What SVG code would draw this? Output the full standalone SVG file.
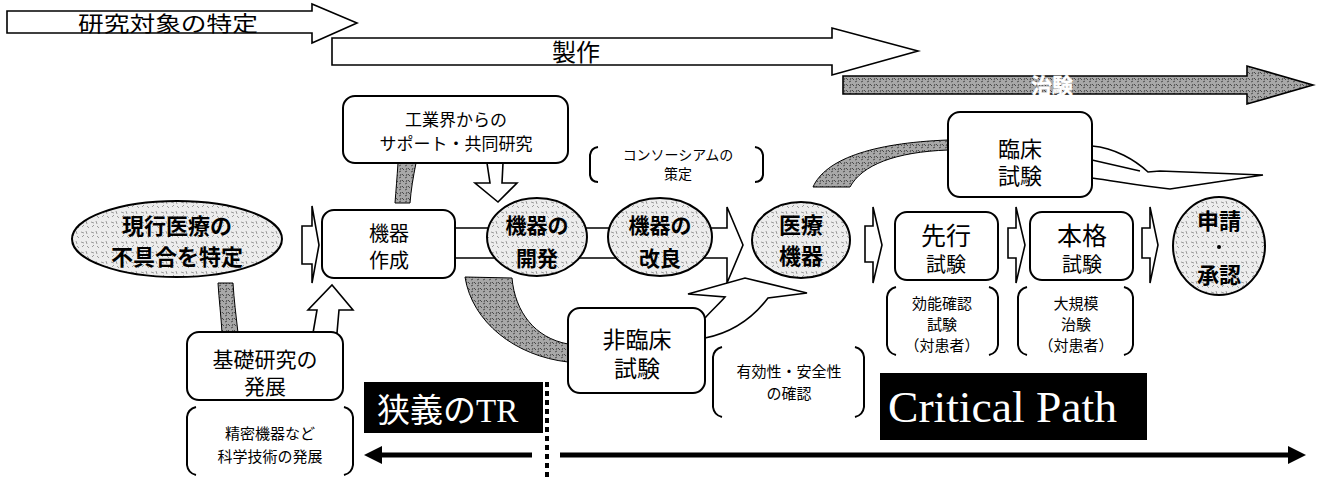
<svg xmlns="http://www.w3.org/2000/svg" width="1317" height="479" viewBox="0 0 1317 479">
<defs>
<pattern id="lt" width="10" height="10" patternUnits="userSpaceOnUse"><rect width="10" height="10" fill="#ededed"/><path d="M1,2 l3,1 M6,1 l1,3 M2,7 l2,-2 M7,6 l2,2" stroke="#777" stroke-width="0.7" fill="none"/></pattern>
<pattern id="dk" width="6" height="6" patternUnits="userSpaceOnUse"><rect width="6" height="6" fill="#a8a8a8"/><path d="M0,0 l2,2 M3,4 l2,-1 M5,0 l-1,2" stroke="#333" stroke-width="0.8" fill="none"/></pattern>
<style>
.jp{font-family:"Noto Sans CJK JP",sans-serif;fill:#000;text-anchor:middle}
.box{fill:#fff;stroke:#000;stroke-width:2}
.ell{fill:url(#lt);stroke:#000;stroke-width:2}
.hol{fill:#fff;stroke:#000;stroke-width:1.6;stroke-linejoin:miter}
.band{fill:url(#dk);stroke:#000;stroke-width:1}
.brk{fill:none;stroke:#000;stroke-width:2}
.blk{fill:#000}
.wt{font-family:"Liberation Serif","Noto Sans CJK JP",serif;fill:#fff}
</style>
</defs>

<g id="connectors">
<polygon class="hol" points="7,11 312,11 312,4 357,23 312,43 312,33 7,33"/>
<polygon class="hol" points="332,38 832,38 832,28 918,51 832,75 832,65 332,65"/>
<polygon fill="url(#dk)" stroke="#000" stroke-width="1.6" points="843,76 1247,76 1247,66 1313,85 1247,104 1247,94 843,94"/>
<polygon class="hol" points="455,228 727,228 727,207 743,245 727,283 727,258 455,258"/>
<polygon class="hol" points="302,226 312,226 312,206 319,245 312,283 312,264 302,264"/>
<polygon class="hol" points="865,226 873,226 873,207 882,245 873,283 873,262 865,262"/>
<polygon class="hol" points="1008,228 1016,228 1016,207 1025,245 1016,283 1016,258 1008,258"/>
<polygon class="hol" points="1142,228 1150,228 1150,207 1158,245 1150,283 1150,258 1142,258"/>
<polygon class="hol" points="487,163 503,163 502,183 517,183 498,202 475,183 490,183"/>
<polygon class="hol" points="317,310 313,333 337,333 339,310 353,310 332,285 308,310"/>
<path class="band" d="M218,283 C219,300 221,315 222,333 L238,333 C236,315 234,300 233,283 Z"/>
<path class="band" d="M398,163 C397,178 396,190 395,203 L410,203 C411,190 413,178 416,163 Z"/>
<path class="band" d="M465,277 C472,322 515,356 568,362 L568,344 C535,338 515,312 512,278 Z"/>
<path class="hol" d="M705,318 C712,310 720,303 725,297 L688,294 L745,278 L807,293 L768,298 C755,315 735,332 705,338"/>
<path class="band" d="M813,187 C825,160 870,143 948,140 L948,150 C895,152 862,165 850,187 Z"/>
<path class="hol" d="M1092,146 C1115,148 1135,160 1148,172 L1160,171 L1263,175 L1170,189 C1140,186 1115,181 1092,178"/>
<line x1="1092" y1="160" x2="1140" y2="171" stroke="#000" stroke-width="1.4"/>
<line x1="547" y1="382" x2="547" y2="479" stroke="#000" stroke-width="4" stroke-dasharray="5,4"/>
<line x1="378" y1="455" x2="532" y2="455" stroke="#000" stroke-width="5"/>
<polygon points="364,455 382,446 382,464" fill="#000"/>
<line x1="560" y1="455" x2="1292" y2="455" stroke="#000" stroke-width="5"/>
<polygon points="1306,455 1288,446 1288,464" fill="#000"/>
</g>

<g id="label-kenkyu"><text class="jp" x="168" y="31" font-size="21" textLength="180" lengthAdjust="spacingAndGlyphs">研究対象の特定</text></g>
<g id="label-seisaku"><text class="jp" x="576" y="61" font-size="24">製作</text></g>
<g id="label-chiken"><text class="jp" x="1052" y="93" font-size="21" font-weight="bold" style="fill:#fff;stroke:#fff;stroke-width:0.3">治験</text></g>

<g id="n-kogyo"><rect class="box" x="343" y="96" width="225" height="67" rx="12"/>
<text class="jp" x="456" y="126" font-size="17">工業界からの</text>
<text class="jp" x="456" y="150" font-size="17">サポート・共同研究</text></g>

<g id="n-consortium"><path class="brk" d="M598,147 Q591,148 590,155 L590,175 Q591,182 598,182 M755,147 Q762,148 763,155 L763,175 Q762,182 755,182"/>
<text class="jp" x="678" y="160" font-size="14">コンソーシアムの</text>
<text class="jp" x="678" y="179" font-size="14">策定</text></g>

<g id="n-rinsho"><rect class="box" x="948" y="112" width="144" height="85" rx="12"/>
<text class="jp" x="1020" y="157" font-size="22">臨床</text>
<text class="jp" x="1020" y="184" font-size="22">試験</text></g>

<g id="n-genko"><ellipse class="ell" cx="177" cy="239" rx="105" ry="38"/>
<text class="jp" x="177" y="234" font-size="22" font-weight="bold">現行医療の</text>
<text class="jp" x="177" y="265" font-size="22" font-weight="bold">不具合を特定</text></g>

<g id="n-kiki-sakusei"><rect class="box" x="322" y="210" width="133" height="68" rx="12"/>
<text class="jp" x="389" y="241" font-size="20">機器</text>
<text class="jp" x="389" y="268" font-size="20">作成</text></g>

<g id="n-kaihatsu"><ellipse class="ell" cx="537" cy="237" rx="50" ry="39"/>
<text class="jp" x="537" y="233" font-size="21" font-weight="bold">機器の</text>
<text class="jp" x="537" y="266" font-size="21" font-weight="bold">開発</text></g>

<g id="n-kairyo"><ellipse class="ell" cx="660" cy="237" rx="52" ry="39"/>
<text class="jp" x="660" y="233" font-size="21" font-weight="bold">機器の</text>
<text class="jp" x="660" y="266" font-size="21" font-weight="bold">改良</text></g>

<g id="n-iryokiki"><ellipse class="ell" cx="801" cy="240" rx="49" ry="38"/>
<text class="jp" x="801" y="233" font-size="22" font-weight="bold">医療</text>
<text class="jp" x="801" y="264" font-size="22" font-weight="bold">機器</text></g>

<g id="n-senko"><rect class="box" x="895" y="212" width="103" height="68" rx="12"/>
<text class="jp" x="946" y="245" font-size="25">先行</text>
<text class="jp" x="946" y="272" font-size="20">試験</text></g>

<g id="n-honkaku"><rect class="box" x="1030" y="212" width="103" height="68" rx="12"/>
<text class="jp" x="1082" y="245" font-size="25">本格</text>
<text class="jp" x="1082" y="272" font-size="20">試験</text></g>

<g id="n-shinsei"><ellipse class="ell" cx="1219" cy="246" rx="46" ry="49"/>
<text class="jp" x="1219" y="229" font-size="22" font-weight="bold">申請</text>
<circle cx="1219" cy="247" r="2" fill="#000"/>
<text class="jp" x="1219" y="283" font-size="22" font-weight="bold">承認</text></g>

<g id="n-koyo"><path class="brk" d="M896,287 Q888,289 887,297 L887,345 Q888,353 896,355 M989,287 Q997,289 998,297 L998,345 Q997,353 989,355"/>
<text class="jp" x="942" y="309" font-size="15">効能確認</text>
<text class="jp" x="942" y="330" font-size="15">試験</text>
<text class="jp" x="942" y="351" font-size="15">（対患者）</text></g>

<g id="n-daikibo"><path class="brk" d="M1027,287 Q1019,289 1018,297 L1018,345 Q1019,353 1027,355 M1124,287 Q1132,289 1133,297 L1133,345 Q1132,353 1124,355"/>
<text class="jp" x="1076" y="309" font-size="15">大規模</text>
<text class="jp" x="1076" y="330" font-size="15">治験</text>
<text class="jp" x="1076" y="351" font-size="15">（対患者）</text></g>

<g id="n-hirinsho"><rect class="box" x="568" y="308" width="137" height="85" rx="12"/>
<text class="jp" x="637" y="348" font-size="23">非臨床</text>
<text class="jp" x="637" y="377" font-size="23">試験</text></g>

<g id="n-yukosei"><path class="brk" d="M722,347 Q714,349 713,357 L713,407 Q714,415 722,417 M855,347 Q863,349 864,357 L864,407 Q863,415 855,417"/>
<text class="jp" x="789" y="377" font-size="15">有効性・安全性</text>
<text class="jp" x="789" y="399" font-size="15">の確認</text></g>

<g id="n-kiso"><rect class="box" x="187" y="332" width="156" height="68" rx="12"/>
<text class="jp" x="265" y="367" font-size="21">基礎研究の</text>
<text class="jp" x="265" y="394" font-size="21">発展</text></g>

<g id="n-seimitsu"><path class="brk" d="M196,407 Q188,409 187,417 L187,465 Q188,473 196,475 M344,407 Q352,409 353,417 L353,465 Q352,473 344,475"/>
<text class="jp" x="270" y="439" font-size="15">精密機器など</text>
<text class="jp" x="270" y="462" font-size="15">科学技術の発展</text></g>

<g id="n-tr"><rect class="blk" x="364" y="382" width="179" height="51"/>
<text class="wt" x="377" y="422" font-size="33">狭義のTR</text></g>

<g id="n-critical"><rect class="blk" x="880" y="373" width="267" height="67"/>
<text class="wt" x="888" y="422" font-size="45" textLength="229" lengthAdjust="spacingAndGlyphs">Critical Path</text></g>
</svg>
